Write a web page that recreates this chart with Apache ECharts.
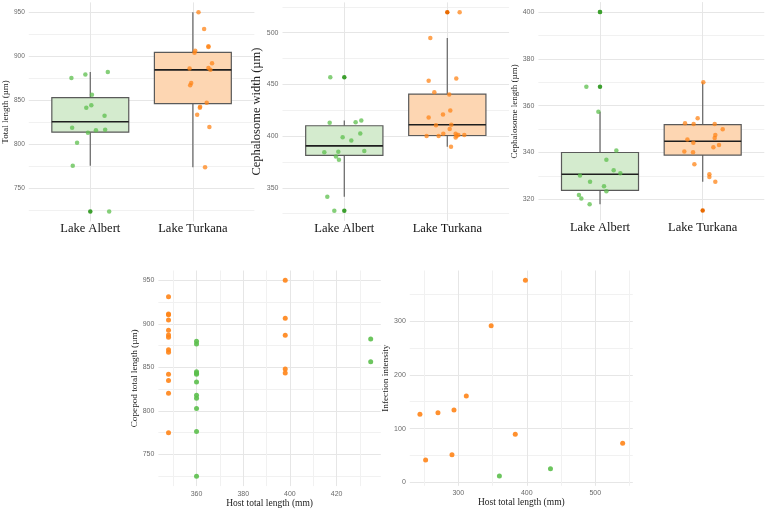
<!DOCTYPE html>
<html>
<head>
<meta charset="utf-8">
<script src="https://cdn.jsdelivr.net/npm/echarts@6/dist/echarts.min.js"></script>
<style>
  html, body { margin: 0; padding: 0; background: #fff; }
  #chart { width: 767px; height: 509px; }
</style>
</head>
<body>
<div id="chart"></div>
<script>
var chart = echarts.init(document.getElementById('chart'));

// ---- data ----
var lakes = ['Lake Albert', 'Lake Turkana'];

// box stats: [x, lower whisker, Q1, median, Q3, upper whisker]
var totalBox = [[1, 775.8, 814, 825.8, 853, 882.2], [2, 774.2, 846.2, 884.5, 904.2, 949.6]];
var widthBox = [[1, 341.3, 381.3, 390.6, 410, 415.2], [2, 389.7, 400.6, 411, 440.6, 494.8]];
var lengthBox = [[1, 317.9, 323.8, 330.7, 340, 357.4], [2, 327.5, 338.9, 344.8, 351.9, 370]];

// jittered points [x, value]
var totalAlbert = [[0.816, 875.4], [0.952, 879.2], [1.171, 882.2], [1.016, 856.4], [0.961, 841.7], [1.01, 844.3],
  [1.139, 832.6], [0.823, 819], [0.977, 813.3], [1.055, 816], [1.145, 816.7], [0.871, 801.9], [0.829, 775.8], [1.184, 724.2]];
var totalTurkana = [[2.055, 949.6], [2.11, 930.7], [2.152, 911.3], [2.152, 910.5], [2.023, 906], [2.016, 903.8],
  [2.187, 892], [1.968, 886], [2.152, 886.7], [2.171, 884.5], [1.984, 869.7], [1.974, 867], [2.135, 847.3],
  [2.071, 842.8], [2.068, 841.7], [2.042, 833.7], [2.161, 819.7], [2.119, 774.2]];
var totalOut = [[1, 724.2]];

var widthAlbert = [[0.864, 456.8], [0.858, 412.9], [1.11, 413.5], [1.165, 415.2], [1.155, 402.6], [0.984, 399],
  [1.068, 395.8], [0.806, 384.5], [0.942, 384.8], [1.194, 385.5], [0.919, 380.3], [0.948, 377.1], [0.835, 341.3], [0.903, 327.7]];
var widthTurkana = [[2.12, 519.7], [1.835, 494.8], [1.819, 453.5], [2.087, 455.8], [1.874, 442.3], [2.019, 440.3],
  [2.029, 424.8], [1.958, 421], [1.819, 418.1], [1.89, 410.6], [2.039, 411], [2.023, 406.8], [1.961, 402.3],
  [2.081, 402.3], [2.091, 400.3], [1.799, 400], [1.916, 400], [2.107, 401], [2.165, 401], [2.081, 398.7], [2.036, 389.7]];
var widthOutA = [[1, 456.8], [1, 327.7]];
var widthOutT = [[2, 519.7]];

var lengthAlbert = [[1.0, 400], [0.867, 368.1], [0.984, 357.4], [1.159, 340.9], [1.062, 336.9], [1.133, 332.4],
  [1.198, 331.1], [0.805, 330.2], [0.903, 327.5], [1.039, 325.6], [1.062, 323.4], [0.795, 321.9], [0.818, 320.4], [0.899, 317.9]];
var lengthTurkana = [[2.006, 370], [1.828, 352.5], [1.951, 354.6], [1.912, 352.2], [2.117, 352.2], [2.195, 349.9],
  [2.123, 347.5], [1.851, 345.6], [2.117, 346.2], [1.909, 344.2], [2.159, 343.2], [2.104, 342.2], [1.821, 340.4],
  [1.906, 340.1], [1.919, 335], [2.065, 330.7], [2.065, 329.5], [2.123, 327.5]];
var lengthOutA = [[1, 400], [1, 368.1]];
var lengthOutT = [[2, 315.2]];

// host length vs copepod total length
var hostCopAlbert = [[360, 879.9], [360, 876.8], [360, 845], [360, 843.1], [360, 842], [360, 833.1], [360, 817.8],
  [360, 814.4], [360, 802.5], [360, 776.1], [360, 724.7], [434.6, 882.6], [434.6, 856.5]];
var hostCopTurkana = [[348, 931.2], [348, 911.3], [348, 910.5], [348, 904.4], [348, 892.5], [348, 887.2], [348, 884.5],
  [348, 870.3], [348, 867.2], [348, 842], [348, 834.7], [348, 820.1], [348, 774.9],
  [398, 950], [398, 906.3], [398, 886.8], [398, 848], [398, 843.5]];

// host length vs infection intensity
var hostIntAlbert = [[360, 11.8], [434.6, 25.4]];
var hostIntTurkana = [[244, 126.5], [252.3, 41.5], [270.3, 129.6], [290.8, 51.5], [293.7, 134.5], [311.7, 160.6],
  [348, 291.4], [383.2, 89.3], [398, 375.7], [540, 72.5]];

// tick values
var totalMajor = [750, 800, 850, 900, 950], totalMinor = [725, 775, 825, 875, 925];
var widthMajor = [350, 400, 450, 500], widthMinor = [325, 375, 425, 475, 525];
var lengthMajor = [320, 340, 360, 380, 400], lengthMinor = [330, 350, 370, 390];
var hostMajor = [360, 380, 400, 420], hostMinor = [350, 370, 390, 410, 430];
var copMajor = [750, 800, 850, 900, 950], copMinor = [725, 775, 825, 875, 925];
var host2Major = [300, 400, 500], host2Minor = [250, 350, 450, 550];
var intMajor = [0, 100, 200, 300], intMinor = [50, 150, 250, 350];

var green = '#5cbf4c', orange = '#ff8417';
var greenDark = '#3c9f2e', orangeDark = '#e96a00';
var boxFills = ['#d4ebce', '#fdd6b2'];
var serif = 'Liberation Serif';
var sans = 'Liberation Sans';

// ggplot style 5% padding
function pad(vals) {
  var lo = Math.min.apply(null, vals), hi = Math.max.apply(null, vals);
  var d = (hi - lo) * 0.05;
  return [lo - d, hi + d];
}
function col(arr, i) { return arr.map(function (r) { return r[i]; }); }

var totalRange = pad(col(totalAlbert.concat(totalTurkana, totalOut), 1));
var widthRange = pad(col(widthAlbert.concat(widthTurkana, widthOutA, widthOutT), 1));
var lengthRange = pad(col(lengthAlbert.concat(lengthTurkana, lengthOutA, lengthOutT), 1));
var hostRange = pad(col(hostCopAlbert.concat(hostCopTurkana), 0));
var copRange = pad(col(hostCopAlbert.concat(hostCopTurkana), 1));
var host2Range = pad(col(hostIntAlbert.concat(hostIntTurkana), 0));
var intRange = pad(col(hostIntAlbert.concat(hostIntTurkana), 1));

function majorAxis(grid, range, ticks, labelSize, extra) {
  var ax = {
    type: 'value', gridIndex: grid, min: range[0], max: range[1],
    axisLine: { show: false },
    axisTick: { show: false, customValues: ticks },
    axisLabel: { customValues: ticks, fontSize: labelSize, color: '#6a6a6a', fontFamily: sans, margin: 4 },
    splitLine: { show: true, lineStyle: { color: '#e6e6e6', width: 1 } },
    nameTextStyle: { fontFamily: serif, color: '#222' }
  };
  for (var k in extra) ax[k] = extra[k];
  return ax;
}
function minorAxis(grid, range, ticks) {
  return {
    type: 'value', gridIndex: grid, min: range[0], max: range[1],
    axisLine: { show: false },
    axisTick: { show: false, customValues: ticks },
    axisLabel: { show: false },
    splitLine: { show: true, lineStyle: { color: '#f1f1f1', width: 1 } }
  };
}
function lakeAxis(grid) {
  return {
    type: 'value', gridIndex: grid, min: 0.4, max: 2.6,
    axisLine: { show: false },
    axisTick: { show: false, customValues: [1, 2] },
    axisLabel: {
      customValues: [1, 2], fontSize: 12.5, color: '#111', fontFamily: serif, margin: 1,
      formatter: function (v) { return lakes[Math.round(v) - 1]; }
    },
    splitLine: { show: true, lineStyle: { color: '#e6e6e6', width: 1 } }
  };
}

function renderBox(params, api) {
  var x = api.value(0);
  var lo = api.coord([x, api.value(1)]);
  var q1 = api.coord([x, api.value(2)]);
  var md = api.coord([x, api.value(3)]);
  var q3 = api.coord([x, api.value(4)]);
  var hi = api.coord([x, api.value(5)]);
  var half = api.size([0.75, 0])[0] / 2;
  return {
    type: 'group',
    children: [
      { type: 'line', shape: { x1: lo[0], y1: lo[1], x2: q1[0], y2: q1[1] }, style: { stroke: '#6e6e6e', lineWidth: 1.3 } },
      { type: 'line', shape: { x1: q3[0], y1: q3[1], x2: hi[0], y2: hi[1] }, style: { stroke: '#6e6e6e', lineWidth: 1.3 } },
      { type: 'rect', shape: { x: q3[0] - half, y: q3[1], width: half * 2, height: q1[1] - q3[1] },
        style: { fill: boxFills[params.dataIndex], stroke: '#5a5a5a', lineWidth: 1.2 } },
      { type: 'line', shape: { x1: md[0] - half, y1: md[1], x2: md[0] + half, y2: md[1] }, style: { stroke: '#1e1e1e', lineWidth: 1.6 } }
    ]
  };
}

function boxSeries(i, data) {
  return { type: 'custom', xAxisIndex: i, yAxisIndex: i * 2, renderItem: renderBox, data: data, z: 2,
    encode: { x: 0, y: [1, 2, 3, 4, 5] } };
}
function dots(xi, yi, data, color, size, opacity) {
  return { type: 'scatter', xAxisIndex: xi, yAxisIndex: yi, data: data, symbolSize: size, z: 3,
    itemStyle: { color: color, opacity: opacity } };
}

var option = {
  animation: false,
  backgroundColor: '#fff',
  grid: [
    { left: 25.6, top: 2.4, width: 228.8, height: 219 },
    { left: 282.5, top: 2.4, width: 226.6, height: 218.4 },
    { left: 538.4, top: 2.1, width: 225.9, height: 218.4 },
    { left: 158.4, top: 270.5, width: 222.4, height: 215.6 },
    { left: 409.8, top: 270.5, width: 223, height: 215.3 }
  ],
  xAxis: [
    lakeAxis(0), lakeAxis(1), lakeAxis(2),
    majorAxis(3, hostRange, hostMajor, 7, { name: 'Host total length (mm)', nameLocation: 'middle', nameGap: 11,
      nameTextStyle: { fontFamily: serif, fontSize: 9.5, color: '#222' } }),
    minorAxis(3, hostRange, hostMinor),
    majorAxis(4, host2Range, host2Major, 7, { name: 'Host total length (mm)', nameLocation: 'middle', nameGap: 11,
      nameTextStyle: { fontFamily: serif, fontSize: 9.5, color: '#222' } }),
    minorAxis(4, host2Range, host2Minor)
  ],
  yAxis: [
    majorAxis(0, totalRange, totalMajor, 6.5, { name: 'Total length (µm)', nameLocation: 'middle', nameGap: 15,
      nameTextStyle: { fontFamily: serif, fontSize: 9, color: '#222' } }),
    minorAxis(0, totalRange, totalMinor),
    majorAxis(1, widthRange, widthMajor, 7, { name: 'Cephalosome width (µm)', nameLocation: 'middle', nameGap: 15,
      nameTextStyle: { fontFamily: serif, fontSize: 12.5, color: '#222' } }),
    minorAxis(1, widthRange, widthMinor),
    majorAxis(2, lengthRange, lengthMajor, 7, { name: 'Cephalosome length (µm)', nameLocation: 'middle', nameGap: 18,
      nameTextStyle: { fontFamily: serif, fontSize: 9, color: '#222' } }),
    minorAxis(2, lengthRange, lengthMinor),
    majorAxis(3, copRange, copMajor, 7, { name: 'Copepod total length (µm)', nameLocation: 'middle', nameGap: 18,
      nameTextStyle: { fontFamily: serif, fontSize: 9.2, color: '#222' } }),
    minorAxis(3, copRange, copMinor),
    majorAxis(4, intRange, intMajor, 7, { name: 'Infection intensity', nameLocation: 'middle', nameGap: 14,
      nameTextStyle: { fontFamily: serif, fontSize: 9.2, color: '#222' } }),
    minorAxis(4, intRange, intMinor)
  ],
  series: [
    boxSeries(0, totalBox),
    dots(0, 0, totalAlbert, green, 4.5, 0.75),
    dots(0, 0, totalTurkana, orange, 4.5, 0.75),
    dots(0, 0, totalOut, greenDark, 4.5, 1),

    boxSeries(1, widthBox),
    dots(1, 2, widthAlbert, green, 4.5, 0.75),
    dots(1, 2, widthTurkana, orange, 4.5, 0.75),
    dots(1, 2, widthOutA, greenDark, 4.5, 1),
    dots(1, 2, widthOutT, orangeDark, 4.5, 1),

    boxSeries(2, lengthBox),
    dots(2, 4, lengthAlbert, green, 4.5, 0.75),
    dots(2, 4, lengthTurkana, orange, 4.5, 0.75),
    dots(2, 4, lengthOutA, greenDark, 4.5, 1),
    dots(2, 4, lengthOutT, orangeDark, 4.5, 1),

    dots(3, 6, hostCopTurkana, orange, 5, 0.9),
    dots(3, 6, hostCopAlbert, green, 5, 0.9),
    dots(5, 8, hostIntTurkana, orange, 5, 0.9),
    dots(5, 8, hostIntAlbert, green, 5, 0.9)
  ]
};

chart.setOption(option);
</script>
</body>
</html>
